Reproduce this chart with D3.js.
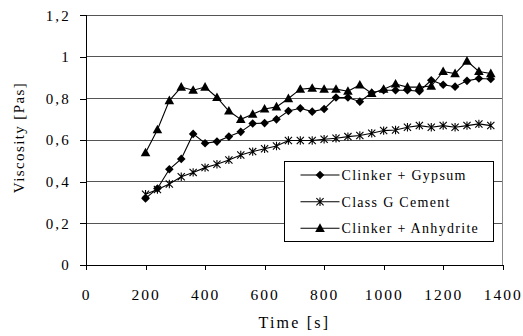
<!DOCTYPE html>
<html><head><meta charset="utf-8">
<script src="https://cdn.jsdelivr.net/npm/d3@7"></script>
<style>body{margin:0;background:#fff}svg{display:block}</style>
</head><body><svg id="c" width="523" height="336"></svg>
<script>
const times = [200,240,280,320,360,400,440,480,520,560,600,640,680,720,760,800,840,880,920,960,1000,1040,1080,1120,1160,1200,1240,1280,1320,1360];
const gypsum = [0.32,0.368,0.46,0.51,0.63,0.585,0.593,0.617,0.64,0.68,0.682,0.70,0.74,0.753,0.737,0.75,0.805,0.805,0.785,0.828,0.84,0.84,0.84,0.835,0.888,0.866,0.857,0.885,0.896,0.894];
const cement = [0.34,0.363,0.389,0.424,0.445,0.468,0.484,0.505,0.529,0.545,0.559,0.572,0.598,0.598,0.598,0.604,0.609,0.617,0.622,0.633,0.646,0.649,0.662,0.67,0.662,0.67,0.662,0.67,0.678,0.67];
const anhydrite = [0.54,0.65,0.79,0.855,0.84,0.855,0.805,0.74,0.70,0.725,0.75,0.76,0.80,0.845,0.85,0.845,0.845,0.835,0.865,0.825,0.845,0.87,0.855,0.855,0.86,0.93,0.92,0.98,0.93,0.92];
const seriesNames = ["Clinker + Gypsum","Class G Cement","Clinker + Anhydrite"];
const xTicks = [0,200,400,600,800,1000,1200,1400];
const yTicks = [0,0.2,0.4,0.6,0.8,1,1.2];
const xTitle = "Time [s]", yTitle = "Viscosity [Pas]";

const FONT = '"Liberation Serif", "Tinos", "Times New Roman"';
const svg = d3.select("#c");
const m = {l:86, r:20.3, t:15.3, b:71};
const W = 523, H = 336;
const x = d3.scaleLinear().domain([0,1400]).range([m.l, W-m.r]);
const y = d3.scaleLinear().domain([0,1.2]).range([H-m.b, m.t]);
const fmt = v => String(v).replace(".", ",");

// gridlines
svg.append("g").selectAll("line").data(yTicks.filter(d=>d>0)).join("line")
  .attr("x1", x(0)).attr("x2", x(1400)).attr("y1", d=>y(d)).attr("y2", d=>y(d))
  .attr("stroke", "#555").attr("stroke-width", 1).attr("shape-rendering","crispEdges");
// right border
svg.append("line").attr("x1", x(1400)).attr("x2", x(1400)).attr("y1", y(1.2)).attr("y2", y(0))
  .attr("stroke","#888").attr("shape-rendering","crispEdges");

// axes
const yAxis = d3.axisLeft(y).tickValues(yTicks).tickFormat(fmt).tickSize(6).tickPadding(11);
const gy = svg.append("g").attr("transform", `translate(${x(0)},0)`).call(yAxis);
const xAxis = d3.axisBottom(x).tickValues(xTicks).tickFormat(d=>String(d)).tickSize(5).tickPadding(19);
const gx = svg.append("g").attr("transform", `translate(0,${y(0)})`).call(xAxis);
[gx, gy].forEach(g => {
  g.attr("font-family", FONT);
  g.select(".domain").attr("stroke","#000").attr("shape-rendering","crispEdges");
  g.selectAll(".tick line").attr("stroke","#000").attr("shape-rendering","crispEdges");
  g.selectAll("text").attr("font-family", FONT).attr("fill","#000");
});
gy.selectAll("text").attr("font-size", 15).attr("letter-spacing", "2.2px").attr("dx","2px");
gx.selectAll("text").attr("font-size", 15.5).attr("letter-spacing", "2px").attr("dx","0px");

// titles
svg.append("text").attr("x", x(700)).attr("y", 328).attr("text-anchor","middle").attr("font-family", FONT)
  .attr("font-size", 16).attr("letter-spacing","2.2px").attr("fill","#000").text(xTitle);
svg.append("text").attr("transform", `translate(24,137.5) rotate(-90)`).attr("text-anchor","middle").attr("font-family", FONT)
  .attr("font-size", 15).attr("letter-spacing","1.4px").attr("fill","#000").text(yTitle);

// markers
const diamond = (g, cx, cy) => g.append("path").attr("d", `M${cx},${cy-4.3}L${cx+4.3},${cy}L${cx},${cy+4.3}L${cx-4.3},${cy}Z`).attr("fill","#000");
const triangle = (g, cx, cy) => g.append("path").attr("d", `M${cx},${cy-5}L${cx+4.8},${cy+3.6}L${cx-4.8},${cy+3.6}Z`).attr("fill","#000");
const star = (g, cx, cy) => {
  const s = 3.6;
  g.append("path").attr("d", `M${cx-s},${cy-s}L${cx+s},${cy+s}M${cx-s},${cy+s}L${cx+s},${cy-s}M${cx},${cy-s-0.6}L${cx},${cy+s+0.6}`)
    .attr("stroke","#000").attr("stroke-width",1.1).attr("fill","none");
};
const line = d3.line().x(d=>x(d[0])).y(d=>y(d[1]));
const series = [
  {vals: gypsum, mk: diamond},
  {vals: cement, mk: star},
  {vals: anhydrite, mk: triangle}
];
series.forEach(s => {
  const pts = times.map((t,i)=>[t, s.vals[i]]);
  const g = svg.append("g");
  g.append("path").attr("d", line(pts)).attr("fill","none").attr("stroke","#000").attr("stroke-width",1.1);
  pts.forEach(p => s.mk(g, x(p[0]), y(p[1])));
});

// legend
const lg = svg.append("g");
lg.append("rect").attr("x", 284.5).attr("y", 161.5).attr("width", 209).attr("height", 80)
  .attr("fill","#fff").attr("stroke","#000").attr("stroke-width",1);
const rows = [175, 201.7, 228.3];
series.forEach((s,i) => {
  const cy = rows[i];
  lg.append("line").attr("x1", 300.5).attr("x2", 339.5).attr("y1", cy).attr("y2", cy).attr("stroke","#000").attr("stroke-width",1.1);
  s.mk(lg, 320, cy);
  lg.append("text").attr("x", 341.5).attr("y", cy+4.8).attr("font-family", FONT).attr("font-size", 14).attr("letter-spacing","1.3px").attr("fill","#000").text(seriesNames[i]);
});
</script></body></html>
